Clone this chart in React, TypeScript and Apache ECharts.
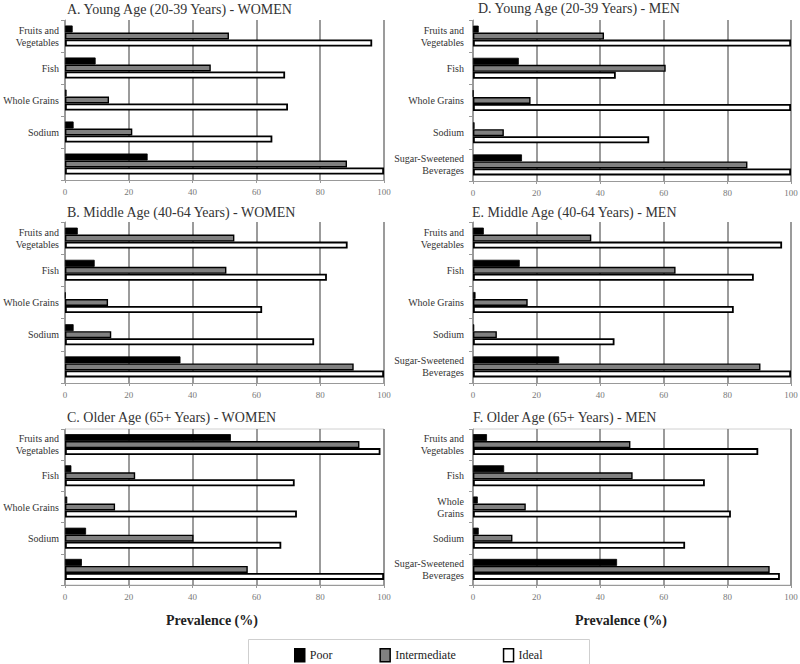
import React, { useEffect, useRef } from "react";
import * as echarts from "echarts";

const categories = ["Fruits and Vegetables", "Fish", "Whole Grains", "Sodium", "Sugar-Sweetened Beverages"];
const seriesNames = ["Poor", "Intermediate", "Ideal"];
const xTickMin = 0;
const xTickMax = 100;
const xTickStep = 20;

// A. Young Age - WOMEN
const youngWomenPoor = [2.4, 9.6, 0.5, 2.7, 25.9];
const youngWomenIntermediate = [51.4, 45.7, 13.8, 21.1, 88.4];
const youngWomenIdeal = [96.3, 69.0, 69.9, 65.0, 100];
// B. Middle Age - WOMEN
const middleWomenPoor = [4.0, 9.3, 0.2, 2.7, 36.2];
const middleWomenIntermediate = [53.1, 50.6, 13.5, 14.5, 90.5];
const middleWomenIdeal = [88.6, 82.1, 61.8, 78.1, 100];
// C. Older Age - WOMEN
const olderWomenPoor = [52.0, 2.0, 0.7, 6.6, 5.3];
const olderWomenIntermediate = [92.3, 22.0, 15.7, 40.3, 57.3];
const olderWomenIdeal = [98.9, 72.0, 72.7, 67.8, 100];
// D. Young Age - MEN
const youngMenPoor = [1.8, 14.4, 0.1, 0.5, 15.4];
const youngMenIntermediate = [41.2, 60.6, 18.1, 9.7, 86.3];
const youngMenIdeal = [100, 44.9, 100, 55.4, 100];
// E. Middle Age - MEN
const middleMenPoor = [3.4, 14.7, 0.8, 0.4, 27.1];
const middleMenIntermediate = [37.2, 63.7, 17.2, 7.5, 90.4];
const middleMenIdeal = [97.2, 88.3, 82.0, 44.5, 100];
// F. Older Age - MEN
const olderMenPoor = [4.4, 9.8, 1.5, 1.8, 45.3];
const olderMenIntermediate = [49.5, 50.2, 16.6, 12.4, 93.3];
const olderMenIdeal = [89.7, 72.9, 81.1, 66.7, 96.5];

const panelTitles = [
  "A. Young Age (20-39 Years) - WOMEN",
  "B. Middle Age (40-64 Years) - WOMEN",
  "C. Older Age (65+ Years) - WOMEN",
  "D. Young Age (20-39 Years) - MEN",
  "E. Middle Age (40-64 Years) - MEN",
  "F. Older Age (65+ Years) - MEN",
];
const panelData = [
  [youngWomenPoor, youngWomenIntermediate, youngWomenIdeal],
  [middleWomenPoor, middleWomenIntermediate, middleWomenIdeal],
  [olderWomenPoor, olderWomenIntermediate, olderWomenIdeal],
  [youngMenPoor, youngMenIntermediate, youngMenIdeal],
  [middleMenPoor, middleMenIntermediate, middleMenIdeal],
  [olderMenPoor, olderMenIntermediate, olderMenIdeal],
];
const xAxisTitle = "Prevalence (%)";

const FONT = "Liberation Serif";

// layout per panel
const panelLayout = [
  { left: 65, width: 319, top: 20, height: 160, titleLeft: 67, titleTop: 2, border: false, women: true, wrapWG: false, labelMargin: 6 },
  { left: 65, width: 319, top: 222, height: 161, titleLeft: 67, titleTop: 205, border: false, women: true, wrapWG: false, labelMargin: 6 },
  { left: 65, width: 319, top: 429, height: 156, titleLeft: 67, titleTop: 410, border: true, women: true, wrapWG: false, labelMargin: 6 },
  { left: 473, width: 318, top: 20, height: 161, titleLeft: 478, titleTop: 1, border: false, women: false, wrapWG: false, labelMargin: 9 },
  { left: 473, width: 318, top: 222, height: 161, titleLeft: 472, titleTop: 205, border: false, women: false, wrapWG: false, labelMargin: 9 },
  { left: 473, width: 318, top: 429, height: 156, titleLeft: 473, titleTop: 410, border: true, women: false, wrapWG: true, labelMargin: 9 },
];

const barColors = ["#000000", "#808080", "#ffffff"];
const barBorders = [0.8, 1.4, 1.8];

export default function App() {
  const ref = useRef<HTMLDivElement>(null);
  useEffect(() => {
    document.body.style.margin = "0";
    if (!ref.current) return;
    const chart = echarts.init(ref.current, null, { renderer: "svg" });

    const grids: any[] = [];
    const xAxes: any[] = [];
    const yAxes: any[] = [];
    const series: any[] = [];
    const titles: any[] = [];

    panelLayout.forEach((p, i) => {
      grids.push({
        left: p.left,
        width: p.width,
        top: p.top,
        height: p.height,
        show: p.border,
        borderColor: "#d0d0d0",
        borderWidth: 1,
        containLabel: false,
        outerBoundsMode: "none",
      });
      titles.push({
        text: panelTitles[i],
        left: p.titleLeft,
        top: p.titleTop,
        padding: 0,
        textStyle: { fontFamily: FONT, fontSize: 14, fontWeight: "normal", color: "#333" },
      });
      xAxes.push({
        type: "value",
        gridIndex: i,
        min: xTickMin,
        max: xTickMax,
        interval: xTickStep,
        axisLine: { show: true, lineStyle: { color: "#999", width: 1 } },
        axisTick: { show: true, length: 3, lineStyle: { color: "#999" } },
        axisLabel: { fontFamily: FONT, fontSize: 9, color: "#777", margin: 7 },
        splitLine: { show: true, lineStyle: { color: "#7a7a7a", width: 1.5 } },
      });
      yAxes.push({
        type: "category",
        gridIndex: i,
        data: categories,
        inverse: true,
        axisLine: { show: true, lineStyle: { color: "#999", width: 1 } },
        axisTick: { show: true, length: 4, lineStyle: { color: "#999" } },
        axisLabel: {
          fontFamily: FONT,
          fontSize: 10,
          color: "#333",
          margin: p.labelMargin,
          lineHeight: 12,
          formatter: (v: string) => {
            if (v === "Sugar-Sweetened Beverages") return p.women ? "" : "Sugar-Sweetened\nBeverages";
            if (v === "Fruits and Vegetables") return "Fruits and\nVegetables";
            if (v === "Whole Grains" && p.wrapWG) return "Whole\nGrains";
            return v;
          },
        },
        splitLine: { show: false },
      });
      panelData[i].forEach((vals, s) => {
        series.push({
          type: "bar",
          name: seriesNames[s],
          xAxisIndex: i,
          yAxisIndex: i,
          data: vals,
          barWidth: 7,
          barGap: "0%",
          itemStyle: { color: barColors[s], borderColor: "#000", borderWidth: barBorders[s] },
          emphasis: { disabled: true },
        });
      });
    });

    chart.setOption({
      animation: false,
      backgroundColor: "#fff",
      textStyle: { fontFamily: FONT },
      title: titles,
      grid: grids,
      xAxis: xAxes,
      yAxis: yAxes,
      series,
      legend: {
        left: 289,
        top: 643,
        itemGap: 47,
        itemWidth: 10,
        itemHeight: 13,
        icon: "rect",
        textStyle: { fontFamily: FONT, fontSize: 12, color: "#222" },
        data: seriesNames.map((n, s) => ({
          name: n,
          itemStyle: { color: barColors[s], borderColor: "#000", borderWidth: 1.5 },
        })),
      },
      graphic: [
        {
          type: "rect",
          left: 246,
          top: 637,
          shape: { width: 341, height: 26 },
          style: { fill: "none", stroke: "#cfcfcf", lineWidth: 1 },
          silent: true,
        },
        {
          type: "text",
          x: 212,
          y: 620,
          style: { text: xAxisTitle, fontFamily: FONT, fontSize: 14, fontWeight: "bold", fill: "#222", textAlign: "center", textVerticalAlign: "middle" },
        },
        {
          type: "text",
          x: 621,
          y: 620,
          style: { text: xAxisTitle, fontFamily: FONT, fontSize: 14, fontWeight: "bold", fill: "#222", textAlign: "center", textVerticalAlign: "middle" },
        },
      ],
    });
    return () => chart.dispose();
  }, []);
  return <div ref={ref} style={{ width: 800, height: 664 }} />;
}
